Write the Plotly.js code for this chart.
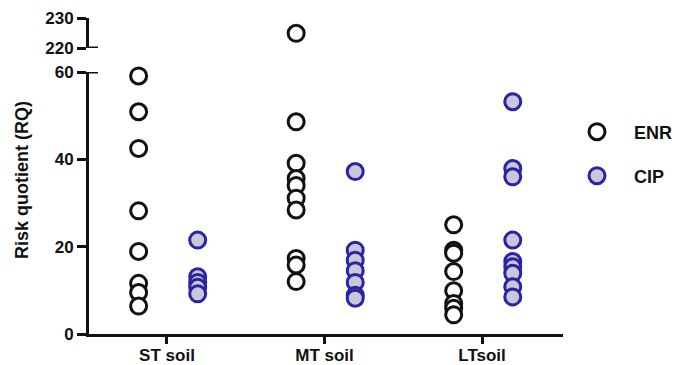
<!DOCTYPE html>
<html>
<head>
<meta charset="utf-8">
<script src="https://cdn.plot.ly/plotly-3.0.1.min.js"></script>
<style>html,body{margin:0;padding:0;background:#fff;}#chart{width:675px;height:365px;}</style>
</head>
<body>
<div id="chart"></div>
<script>
// ---- data ----
const categories = ["ST soil", "MT soil", "LTsoil"];
const seriesNames = ["ENR", "CIP"];
const enrST = [59.1, 50.9, 42.5, 28.2, 18.9, 11.6, 9.5, 6.4];
const enrMT = [224.9, 48.6, 39.1, 35.6, 34.0, 31.1, 28.4, 17.3, 15.8, 12.0];
const enrLT = [25.0, 19.2, 18.5, 14.3, 9.9, 7.0, 5.9, 4.4];
const cipST = [21.5, 13.1, 11.8, 10.7, 9.2];
const cipMT = [37.2, 19.2, 16.9, 14.5, 11.8, 8.9, 8.2];
const cipLT = [53.2, 37.9, 36.0, 21.5, 16.6, 15.4, 13.9, 10.8, 8.5];
const lowerTicks = [0, 20, 40, 60];
const upperTicks = [220, 230];
const yTitle = "Risk quotient (RQ)";

// ---- build ----
const FONT = {family: "Arial, 'Liberation Sans', sans-serif", color: "#111", weight: "bold"};
const BREAK = 100;
const styles = {
  ENR: {offset: -0.18, fill: "#ffffff", line: "#111111", legend: "legend"},
  CIP: {offset: 0.195, fill: "#c8c8da", line: "#2c22a4", legend: "legend2"}
};
const groups = {ENR: [enrST, enrMT, enrLT], CIP: [cipST, cipMT, cipLT]};

const traces = [];
seriesNames.forEach(name => {
  const st = styles[name];
  const lo = {x: [], y: []}, hi = {x: [], y: []};
  groups[name].forEach((vals, ci) => {
    vals.forEach(v => {
      const tgt = v > BREAK ? hi : lo;
      tgt.x.push(ci + st.offset);
      tgt.y.push(v);
    });
  });
  const marker = {symbol: "circle", size: 16, color: st.fill, line: {color: st.line, width: 3}};
  traces.push({type: "scatter", mode: "markers", name: name, x: lo.x, y: lo.y, xaxis: "x", yaxis: "y",
    marker: marker, cliponaxis: false, legend: st.legend, showlegend: true});
  if (hi.x.length) {
    traces.push({type: "scatter", mode: "markers", name: name, x: hi.x, y: hi.y, xaxis: "x", yaxis: "y2",
      marker: marker, cliponaxis: false, showlegend: false});
  }
});

const H = 316, T = 18, L = 89, W = 474;
const axisCommon = {
  showline: true, linewidth: 3, linecolor: "#111", ticks: "outside", ticklen: 9, tickwidth: 3,
  tickcolor: "#111", showgrid: false, zeroline: false, tickfont: Object.assign({size: 17}, FONT), fixedrange: true
};

const legendCommon = {x: (560 - L) / W, xanchor: "left", yanchor: "middle", font: Object.assign({size: 18}, FONT),
  bgcolor: "rgba(0,0,0,0)", itemsizing: "trace", itemwidth: 64};

const layout = {
  width: 675, height: 365,
  margin: {l: L, r: 112, t: T, b: 31, autoexpand: false},
  paper_bgcolor: "#fff", plot_bgcolor: "#fff",
  font: FONT,
  showlegend: true,
  xaxis: Object.assign({}, axisCommon, {
    range: [-0.495, 2.514], tickvals: [0, 1, 2], ticktext: categories, anchor: "y",
    ticklen: 7, ticklabelstandoff: -3,
    tickfont: Object.assign({size: 17}, FONT)
  }),
  yaxis: Object.assign({}, axisCommon, {
    domain: [0, (334 - 72) / H], range: [0, 60], tickvals: lowerTicks, anchor: "x"
  }),
  yaxis2: Object.assign({}, axisCommon, {
    domain: [(334 - 48) / H, 1], range: [220, 230], tickvals: upperTicks, anchor: "x"
  }),
  legend: Object.assign({}, legendCommon, {y: (334 - 132) / H}),
  legend2: Object.assign({}, legendCommon, {y: (334 - 176) / H}),
  annotations: [
    {text: yTitle, xref: "paper", yref: "paper", x: (22 - L) / W, y: (334 - 180) / H, textangle: -90,
      showarrow: false, xanchor: "center", yanchor: "middle", font: Object.assign({size: 18}, FONT)}
  ],
  shapes: [
    {type: "line", xref: "paper", yref: "y", xsizemode: "pixel", xanchor: 0, x0: 0, x1: 9, y0: 60, y1: 60,
      line: {color: "#111", width: 3}},
    {type: "line", xref: "paper", yref: "y2", xsizemode: "pixel", xanchor: 0, x0: 0, x1: 9, y0: 220, y1: 220,
      line: {color: "#111", width: 3}}
  ]
};

Plotly.newPlot("chart", traces, layout, {displayModeBar: false, staticPlot: true});
</script>
</body>
</html>
